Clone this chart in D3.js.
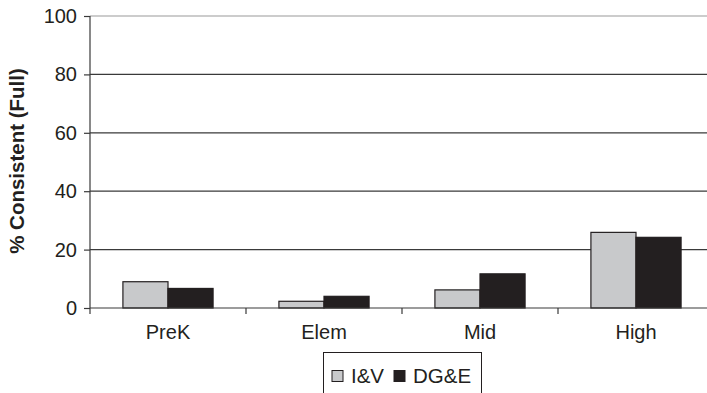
<!DOCTYPE html>
<html><head><meta charset="utf-8">
<script src="https://cdn.jsdelivr.net/npm/d3@7"></script>
<style>body{margin:0;background:#fff}svg{display:block}text{font-family:Arial,"Liberation Sans",sans-serif;fill:#231f20}</style>
</head><body><svg id="c" width="707" height="393"></svg>
<script>
const categories = ["PreK","Elem","Mid","High"];
const seriesNames = ["I&V","DG&E"];
const ivValues = [9.0, 2.3, 6.2, 25.9];
const dgeValues = [6.7, 4.0, 11.7, 24.2];
const yTicks = [0,20,40,60,80,100];
const colors = ["#c8c9cb","#231f20"];

const svg = d3.select("#c");
const pL = 90, pR = 714, pT = 16, pB = 308;
const FS = 20;
const x = d3.scaleBand().domain(categories).range([pL, pR]);
const xs = d3.scaleBand().domain(seriesNames).range([0, x.bandwidth()]).paddingInner(0).paddingOuter(0.73);
const y = d3.scaleLinear().domain([0,100]).range([pB, pT]);

// gridlines
svg.append("g").selectAll("line").data(yTicks.filter(d=>d>0)).join("line")
  .attr("x1", pL).attr("x2", pR).attr("y1", d=>y(d)).attr("y2", d=>y(d))
  .attr("stroke", d=> d===100 ? "#9a9a9a" : "#3a3a3a").attr("stroke-width",1.2);

// y axis
const ya = svg.append("g").attr("transform",`translate(${pL},0)`)
  .call(d3.axisLeft(y).tickValues(yTicks).tickSize(6).tickPadding(7));
ya.attr("font-size",FS).attr("font-family","Arial, 'Liberation Sans', sans-serif");
ya.select(".domain").remove();
ya.append("line").attr("x1",0).attr("x2",0).attr("y1",pT).attr("y2",pB+6).attr("stroke","#3a3a3a").attr("stroke-width",1.2);
ya.selectAll(".tick line").attr("stroke","#3a3a3a").attr("stroke-width",1.2);
ya.selectAll(".tick text").attr("fill","#231f20");

// bars
const data = categories.map((c,i)=>({cat:c, vals:[ivValues[i], dgeValues[i]]}));
svg.append("g").selectAll("g").data(data).join("g")
  .attr("transform", d=>`translate(${x(d.cat)},0)`)
  .selectAll("rect").data(d=>d.vals.map((v,j)=>({s:seriesNames[j], v, j}))).join("rect")
  .attr("x", d=>xs(d.s)).attr("width", xs.bandwidth())
  .attr("y", d=>y(d.v)).attr("height", d=>y(0)-y(d.v))
  .attr("fill", d=>colors[d.j]).attr("stroke","#231f20").attr("stroke-width",1.2);

// x axis
const xa = svg.append("g").attr("transform",`translate(0,${pB})`)
  .call(d3.axisBottom(x).tickSize(0).tickPadding(17));
xa.attr("font-size",FS).attr("font-family","Arial, 'Liberation Sans', sans-serif");
xa.select(".domain").remove();
xa.append("line").attr("x1",pL).attr("x2",pR).attr("y1",0).attr("y2",0).attr("stroke","#3a3a3a").attr("stroke-width",1.2);
xa.selectAll(".tick text").attr("fill","#231f20");
xa.selectAll("line.sep").data(categories.slice(1)).join("line").attr("class","sep")
  .attr("x1",d=>x(d)).attr("x2",d=>x(d)).attr("y1",0).attr("y2",6).attr("stroke","#3a3a3a").attr("stroke-width",1.2);

// y title
svg.append("text").attr("transform","translate(24,161) rotate(-90)").attr("text-anchor","middle")
  .attr("font-size",20.5).attr("font-weight","bold").text("% Consistent (Full)");

// legend
const lg = svg.append("g");
lg.append("rect").attr("x",323.5).attr("y",352.5).attr("width",158).attr("height",60)
  .attr("fill","#fff").attr("stroke","#231f20").attr("stroke-width",1);
const items = [{n:"I&V",x:332,c:colors[0]},{n:"DG&E",x:394,c:colors[1]}];
items.forEach(it=>{
  lg.append("rect").attr("x",it.x).attr("y",370.5).attr("width",11).attr("height",11).attr("fill",it.c).attr("stroke","#231f20").attr("stroke-width",1);
  lg.append("text").attr("x",it.x+19).attr("y",383).attr("font-size",20.5).text(it.n);
});
</script></body></html>
